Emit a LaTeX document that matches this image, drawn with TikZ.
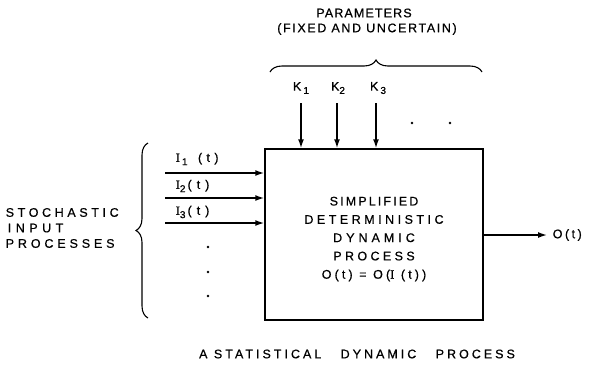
\documentclass[tikz,border=0pt]{standalone}
\usepackage{fontspec}
\setmainfont[FakeBold=0.6]{Liberation Sans}
\newfontfamily\serI[FakeBold=1.2]{Liberation Serif}
\usetikzlibrary{arrows.meta,decorations.pathreplacing}
\newcommand\LS[2]{{\addfontfeature{LetterSpace=#1}#2}}
\newcommand\sbs[1]{\raisebox{-0.5ex}{\fontsize{10}{10}\selectfont #1}}
\newcommand\II{{\serI I}}
\begin{document}
\begin{tikzpicture}[x=1pt,y=-1pt,line width=1.5pt,
  lbl/.style={font=\fontsize{12.5}{12.5}\selectfont,inner sep=0pt},
  arr/.style={-{Latex[length=9pt,width=6pt]}},
  brc/.style={decorate,decoration={brace,amplitude=12pt},line width=1.1pt},
  procbox/.style={draw,minimum width=218pt,minimum height=171pt,inner sep=0pt},
  core/.style={align=center,inner sep=0pt,font=\fontsize{12.5}{18.3}\selectfont},
  dotnode/.style={circle,fill,inner sep=0pt,minimum size=2.8pt}]
\useasboundingbox (0,0) rectangle (593,389);

% top texts
\node[lbl] (par) at (364,13) {\LS{9}{PARAMETERS}};
\node[lbl] (fix) at (367,29) {\LS{13}{(FIXED AND UNCERTAIN)}};
\coordinate (tb1) at (270,72);
\coordinate (tb2) at (482,72);
\draw[brc] (tb1) -- (tb2);

% main box
\node[procbox] (box) at (374,234.5) {};
\node[core] (txt) at (374,239) {\LS{17}{SIMPLIFIED}\\ \LS{28}{DETERMINISTIC}\\ \LS{32}{DYNAMIC}\\ \LS{27}{PROCESS}\\ \LS{25}{O(t) = O(\II\ (t))}};

% parameters
\node[lbl] (k1) at (301,88) {K\,\sbs{1}};
\node[lbl] (k2) at (338,88) {K\sbs{2}};
\node[lbl] (k3) at (378,88) {K\,\sbs{3}};
\coordinate (k1s) at (301,103);
\coordinate (k2s) at (337,103);
\coordinate (k3s) at (376,103);
\draw[arr] (k1s) -- (k1s |- box.north);
\draw[arr] (k2s) -- (k2s |- box.north);
\draw[arr] (k3s) -- (k3s |- box.north);
\node[dotnode] (pd1) at (412,123) {};
\node[dotnode] (pd2) at (450,123) {};

% inputs
\coordinate (i1) at (165,173);
\coordinate (i2) at (165,198);
\coordinate (i3) at (165,223);
\draw[arr] (i1) -- (i1 -| box.west);
\draw[arr] (i2) -- (i2 -| box.west);
\draw[arr] (i3) -- (i3 -| box.west);
\node[lbl,anchor=west] (l1) at (175,159) {\II\,\sbs{1}\ \ \ \LS{35}{(t)}};
\node[lbl,anchor=west] (l2) at (175,186) {\II\sbs{2}\,\LS{40}{(t)}};
\node[lbl,anchor=west] (l3) at (175,212) {\II\sbs{3}\,\LS{40}{(t)}};
\node[dotnode] (vd1) at (208,247) {};
\node[dotnode] (vd2) at (208,272) {};
\node[dotnode] (vd3) at (208,296) {};

\coordinate (lb1) at (148,318);
\coordinate (lb2) at (148,143);
\draw[brc] (lb1) -- (lb2);
\node[lbl,align=left,anchor=west,font=\fontsize{12.5}{15.5}\selectfont] (stoch) at (5,228)
  {\LS{29}{STOCHASTIC}\\ \LS{36}{\,INPUT}\\ \LS{31}{PROCESSES}};

% output
\node[lbl,anchor=west] (out) at (552,235) {\LS{20}{O(t)}};
\draw[arr] (box.east |- out.west) -- ([xshift=-5pt]out.west);

% title
\node[lbl] (title) at (357,354) {\LS{24}{A STATISTICAL\ \ \ DYNAMIC\ \ \ PROCESS}};
\end{tikzpicture}
\end{document}
